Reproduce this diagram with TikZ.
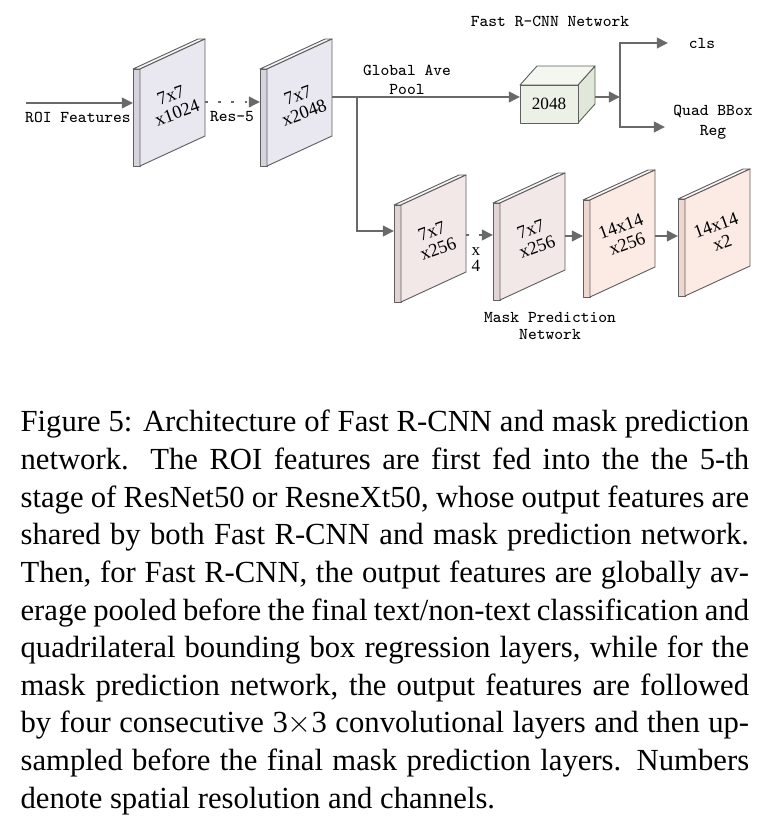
\documentclass[tikz,border=0pt]{standalone}
\usepackage{fontspec}
\setmainfont{Liberation Serif}
\usetikzlibrary{arrows.meta}
\definecolor{conngray}{RGB}{105,105,105}
\definecolor{edgegray}{RGB}{95,95,95}
\definecolor{resfront}{RGB}{233,231,239}
\definecolor{resside}{RGB}{214,211,222}
\definecolor{maskfront}{RGB}{242,232,232}
\definecolor{maskside}{RGB}{226,212,212}
\definecolor{upfront}{RGB}{252,235,229}
\definecolor{upside}{RGB}{238,215,207}
\definecolor{poolfront}{RGB}{235,241,230}
\definecolor{pooltop}{RGB}{244,247,240}
\definecolor{poolside}{RGB}{224,233,217}
\tikzset{
  conn/.style={line width=0.75pt,conngray},
  arrow/.style={conn,-{Triangle[length=3.6pt,width=3.4pt]}},
  dotarrow/.style={arrow,dash pattern=on 0.9pt off 3.4pt},
  face/.style={draw=edgegray,line width=0.3pt,line join=round},
  lbl/.style={font=\fontsize{5.4pt}{6pt}\selectfont\ttfamily,inner sep=0pt,align=center},
  num/.style={font=\fontsize{6pt}{6.1pt}\selectfont,inner sep=0pt,align=center},
  dims/.style={num,rotate=20},
}
% feature map plate: name, x, y, front, side, label, west y, east y
\newcommand{\fmap}[8]{%
  \begin{scope}[shift={(#2,#3)}]
    \filldraw[face,fill=#5] (-7,0) -- (0,0) -- (0,97) -- (-7,97) -- cycle;
    \filldraw[face,fill=#4!40!white] (-7,0) -- (58,-30) -- (65,-30) -- (0,0) -- cycle;
    \filldraw[face,fill=#4] (0,0) -- (65,-30) -- (65,67) -- (0,97) -- cycle;
    \node[dims] (#1) at (34,35) {#6};
    \coordinate (#1-w) at (-7,#7);
    \coordinate (#1-e) at (65,#8);
  \end{scope}}

\begin{document}
\begin{tikzpicture}[x=0.326pt,y=-0.326pt]
  \useasboundingbox (0,0) rectangle (783,828);
  \fmap{f1}{140}{69}{resfront}{resside}{7x7\\x1024}{34}{33}
  \fmap{f2}{267}{69}{resfront}{resside}{7x7\\x2048}{33}{28}
  \fmap{m1}{401}{205}{maskfront}{maskside}{7x7\\x256}{26}{30}
  \fmap{m2}{500}{203}{maskfront}{maskside}{7x7\\x256}{32}{33}
  \fmap{m3}{590}{200}{upfront}{upside}{14x14\\x256}{36}{36}
  \fmap{m4}{685}{199}{upfront}{upside}{14x14\\x2}{37}{37}
  \filldraw[face,fill=poolside] (578,85) -- (595,66) -- (595,104) -- (578,123) -- cycle;
  \filldraw[face,fill=pooltop] (520,85) -- (537,66) -- (595,66) -- (578,85) -- cycle;
  \filldraw[face,fill=poolfront] (520,85) rectangle (578,123);
  \node[num,font=\fontsize{5.6pt}{6pt}\selectfont] (pool) at (549,104) {2048};

  \coordinate (roi) at (26,103);
  \coordinate (split) at (357,97);
  \coordinate (pool-w) at (520,97);
  \coordinate (pool-e) at (595,97);
  \coordinate (fork) at (620,97);
  \coordinate (cls-in) at (668,43);
  \coordinate (reg-in) at (665,127);

  \draw[arrow] (roi) -- (f1-w);
  \draw[dotarrow] (f1-e) -- (f2-w);
  \draw[conn] (f2-e) -- (split);
  \draw[arrow] (split) -- (pool-w);
  \draw[arrow] (split) |- (m1-w);
  \draw[arrow] (pool-e) -- (fork);
  \draw[arrow] (fork) |- (cls-in);
  \draw[arrow] (fork) |- (reg-in);
  \draw[dotarrow] (m1-e) -- (m2-w);
  \draw[arrow] (m2-e) -- (m3-w);
  \draw[arrow] (m3-e) -- (m4-w);

  \node[lbl] (roilbl) at (78,117) {ROI Features};
  \node[lbl] (reslbl) at (232,117) {Res-5};
  \node[lbl] (gaplbl) at (407,80) {Global Ave\\Pool};
  \node[lbl] (fastlbl) at (550,21) {Fast R-CNN Network};
  \node[lbl] (cls) at (702,43) {cls};
  \node[lbl,font=\fontsize{5.4pt}{6.5pt}\selectfont\ttfamily] (reg) at (713,122) {Quad BBox\\Reg};
  \node[num,font=\fontsize{5.6pt}{5.2pt}\selectfont] (rep) at (476,260) {x\\4};
  \node[lbl,font=\fontsize{5.4pt}{5.6pt}\selectfont\ttfamily] (masklbl) at (550,326) {Mask Prediction\\Network};

  \node[anchor=base west,inner sep=0pt] (caption) at (20,432) {\parbox[t]{237.5pt}{%
    \fontsize{10pt}{12.26pt}\selectfont\hbadness=10000
    Figure 5: Architecture of Fast R-CNN and mask prediction\linebreak
    network.  The ROI features are first fed into the the 5-th\linebreak
    stage of ResNet50 or ResneXt50, whose output features are\linebreak
    shared by both Fast R-CNN and mask prediction network.\linebreak
    Then, for Fast R-CNN, the output features are globally av-\linebreak
    erage pooled before the final text/non-text classification and\linebreak
    quadrilateral bounding box regression layers, while for the\linebreak
    mask prediction network, the output features are followed\linebreak
    by four consecutive 3$\times$3 convolutional layers and then up-\linebreak
    sampled before the final mask prediction layers.  Numbers\linebreak
    denote spatial resolution and channels.}};
\end{tikzpicture}
\end{document}
